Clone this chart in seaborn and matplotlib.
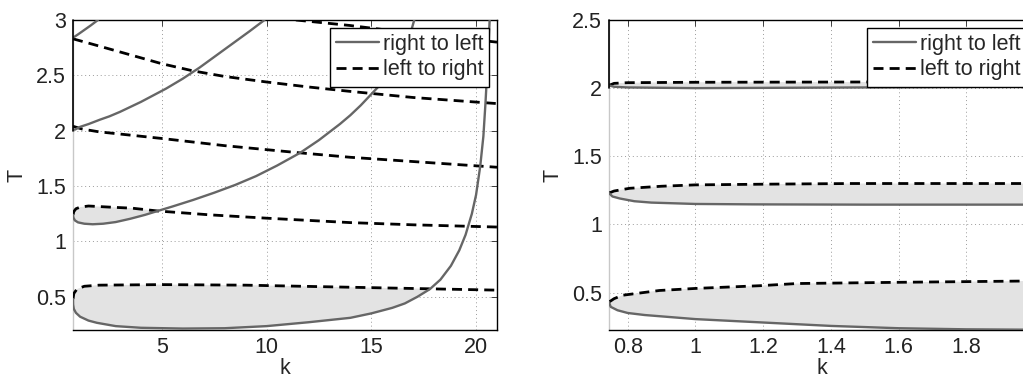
import numpy as np
import matplotlib
matplotlib.use("Agg")
import matplotlib.pyplot as plt
from matplotlib.lines import Line2D
from matplotlib.ticker import FuncFormatter
import seaborn as sns

# ---------- left panel (k from 0.76 to 21) ----------
# solid gray curves: right to left
g1_k = [0.76, 1.0, 1.3, 1.6, 1.95]
g1_T = [2.84, 2.87, 2.91, 2.95, 3.0]
g2_k = [0.76, 0.85, 1.1, 1.5, 2.05, 2.5, 3.0, 4.0, 4.5, 5.2, 6.0, 6.8, 7.6, 8.4, 9.2, 9.9]
g2_T = [2.01, 2.01, 2.035, 2.06, 2.10, 2.13, 2.17, 2.26, 2.31, 2.38, 2.47, 2.57, 2.68, 2.79, 2.90, 3.0]
g3_k = [0.76, 0.78, 0.85, 1.0, 1.3, 1.7, 2.2, 2.8, 3.5, 4.2, 4.8, 5.5, 6.5, 7.5, 8.5, 9.5,
        10.5, 11.6, 12.5, 13.5, 14.0, 14.5, 15.0, 15.5, 16.0, 16.4, 16.75, 17.05]
g3_T = [1.24, 1.215, 1.19, 1.172, 1.16, 1.155, 1.16, 1.175, 1.205, 1.24, 1.275, 1.315, 1.375, 1.44, 1.51, 1.59,
        1.685, 1.80, 1.915, 2.06, 2.14, 2.23, 2.33, 2.43, 2.54, 2.65, 2.80, 3.0]
g4_k = [0.76, 0.765, 0.8, 0.9, 1.1, 1.5, 1.9, 2.8, 4.0, 6.0, 8.0, 10.0, 12.0, 14.0, 15.0, 16.0,
        16.6, 17.2, 17.8, 18.3, 18.8, 19.2, 19.5, 19.8, 20.0, 20.2, 20.35, 20.45, 20.55, 20.65]
g4_T = [0.48, 0.43, 0.39, 0.355, 0.32, 0.285, 0.265, 0.235, 0.22, 0.213, 0.216, 0.235, 0.27, 0.31, 0.35, 0.40,
        0.44, 0.50, 0.57, 0.655, 0.78, 0.92, 1.06, 1.25, 1.42, 1.68, 1.95, 2.25, 2.60, 3.0]

# dashed black curves: left to right
d1_k = [11.4, 14.0, 17.0, 21.0]
d1_T = [3.0, 2.95, 2.88, 2.80]
d2_k = [0.76, 2.0, 3.5, 5.0, 6.5, 8.0, 10.0, 12.0, 14.0, 17.0, 21.0]
d2_T = [2.83, 2.765, 2.685, 2.605, 2.54, 2.49, 2.44, 2.395, 2.355, 2.30, 2.245]
d3_k = [0.76, 1.2, 2.0, 5.0, 8.0, 11.6, 14.0, 17.5, 21.0]
d3_T = [2.04, 2.015, 1.99, 1.93, 1.865, 1.80, 1.76, 1.715, 1.67]
d4_k = [0.76, 0.8, 0.9, 1.1, 1.5, 2.5, 3.6, 4.8, 7.3, 10.0, 14.0, 17.0, 21.0]
d4_T = [1.24, 1.27, 1.295, 1.31, 1.32, 1.31, 1.30, 1.275, 1.24, 1.21, 1.17, 1.15, 1.13]
d5_k = [0.76, 0.8, 0.95, 1.3, 2.0, 5.0, 9.0, 13.0, 17.8, 21.0]
d5_T = [0.48, 0.53, 0.57, 0.595, 0.605, 0.61, 0.605, 0.59, 0.572, 0.56]

# closed lobes on the left: (upper, lower, k where they meet)
left_lobes = [((d5_k, d5_T), (g4_k, g4_T), 17.8),
              ((d4_k, d4_T), (g3_k, g3_T), 4.8)]

# ---------- right panel (k from 0.745 to 2) ----------
ra_up_k = [0.745, 0.76, 0.8, 1.0, 1.5, 2.0]
ra_up_T = [2.02, 2.035, 2.04, 2.043, 2.045, 2.047]
ra_lo_k = [0.745, 0.76, 0.8, 1.0, 1.5, 2.0]
ra_lo_T = [2.02, 2.01, 2.005, 2.0, 2.005, 2.012]
rb_up_k = [0.745, 0.76, 0.806, 0.9, 1.0, 1.2, 1.46, 1.8, 2.0]
rb_up_T = [1.23, 1.245, 1.265, 1.28, 1.29, 1.295, 1.30, 1.30, 1.30]
rb_lo_k = [0.745, 0.755, 0.777, 0.82, 0.87, 1.0, 1.17, 1.5, 2.0]
rb_lo_T = [1.23, 1.205, 1.19, 1.17, 1.16, 1.15, 1.147, 1.145, 1.145]
rc_up_k = [0.745, 0.76, 0.785, 0.894, 1.0, 1.19, 1.3, 1.6, 1.8, 2.0]
rc_up_T = [0.43, 0.455, 0.48, 0.515, 0.53, 0.55, 0.566, 0.575, 0.58, 0.585]
rc_lo_k = [0.745, 0.75, 0.77, 0.8, 0.85, 0.9, 1.0, 1.2, 1.4, 1.6, 1.8, 2.0]
rc_lo_T = [0.43, 0.395, 0.37, 0.35, 0.335, 0.325, 0.305, 0.28, 0.255, 0.238, 0.23, 0.227]

right_lobes = [((ra_up_k, ra_up_T), (ra_lo_k, ra_lo_T), None),
               ((rb_up_k, rb_up_T), (rb_lo_k, rb_lo_T), None),
               ((rc_up_k, rc_up_T), (rc_lo_k, rc_lo_T), None)]

left_solid = [(g1_k, g1_T), (g2_k, g2_T), (g3_k, g3_T), (g4_k, g4_T)]
left_dashed = [(d1_k, d1_T), (d2_k, d2_T), (d3_k, d3_T), (d4_k, d4_T), (d5_k, d5_T)]
right_solid = [(ra_lo_k, ra_lo_T), (rb_lo_k, rb_lo_T), (rc_lo_k, rc_lo_T)]
right_dashed = [(ra_up_k, ra_up_T), (rb_up_k, rb_up_T), (rc_up_k, rc_up_T)]

left_xticks = [5, 10, 15, 20]
left_yticks = [0.5, 1, 1.5, 2, 2.5, 3]
right_xticks = [0.8, 1.0, 1.2, 1.4, 1.6, 1.8]
right_yticks = [0.5, 1, 1.5, 2, 2.5]
labels = ["right to left", "left to right"]

GRAY = "#666666"
FILL = "#e3e3e3"
DASH = (3.6, 2.2)

sns.set_style("white")
plt.rcParams["font.family"] = ["Liberation Sans", "DejaVu Sans"]

fig = plt.figure(figsize=(10.23, 3.79), dpi=100)
W, H = 1023.0, 379.0
ax1 = fig.add_axes([73 / W, 1 - 330 / H, 424 / W, 310 / H])
ax2 = fig.add_axes([609 / W, 1 - 330 / H, 425 / W, 310 / H])


def draw_panel(ax, lobes, solid, dashed, xlim, ylim, xticks, yticks):
    for (uk, uT), (lk, lT), kc in lobes:
        uk, uT, lk, lT = map(np.asarray, (uk, uT, lk, lT))
        if kc is not None:
            mu, ml = uk <= kc + 1e-9, lk <= kc + 1e-9
            uk, uT, lk, lT = uk[mu], uT[mu], lk[ml], lT[ml]
        ax.fill(np.r_[uk, lk[::-1]], np.r_[uT, lT[::-1]], color=FILL, lw=0, zorder=1)
    for k, T in dashed:
        sns.lineplot(x=k, y=T, sort=False, estimator=None, ax=ax, color="black", lw=2.0, zorder=3)
        ax.lines[-1].set_dashes(DASH)
    for k, T in solid:
        sns.lineplot(x=k, y=T, sort=False, estimator=None, ax=ax, color=GRAY, lw=1.7, zorder=4)
    ax.set_xlim(*xlim)
    ax.set_ylim(*ylim)
    ax.set_xticks(xticks)
    ax.set_yticks(yticks)
    fmt = FuncFormatter(lambda v, p: "%g" % v)
    ax.xaxis.set_major_formatter(fmt)
    ax.yaxis.set_major_formatter(fmt)
    ax.grid(True, color="#9a9a9a", lw=0.7, ls=(0, (1, 3)))
    ax.tick_params(direction="in", top=True, right=True, length=4, width=0.6,
                   labelsize=15.5, pad=5, colors="#222222")
    for s in ["top", "right", "bottom"]:
        ax.spines[s].set_color("black")
        ax.spines[s].set_linewidth(1.0)
    ax.spines["left"].set_color("#c8c8c8")
    ax.spines["left"].set_linewidth(1.0)
    # upper part of the left border stays black
    ax.axvline(xlim[0], ymin=(2.0 - ylim[0]) / (ylim[1] - ylim[0]), ymax=1, color="black", lw=1.2,
               zorder=5, clip_on=False)
    ax.set_xlabel("k", fontsize=15.5, labelpad=0)
    ax.set_ylabel("T", fontsize=15.5, labelpad=6)
    handles = [Line2D([], [], color=GRAY, lw=1.7),
               Line2D([], [], color="black", lw=2.0, dashes=DASH)]
    leg = ax.legend(handles, labels, loc="upper right", fontsize=15.5, frameon=True, fancybox=False,
                    edgecolor="black", framealpha=1, borderpad=0.3, labelspacing=0.2,
                    handlelength=2.0, handletextpad=0.15, borderaxespad=0.35)
    leg.get_frame().set_linewidth(1.0)
    leg.set_zorder(10)


draw_panel(ax1, left_lobes, left_solid, left_dashed, (0.76, 21), (0.2, 3),
           left_xticks, left_yticks)
draw_panel(ax2, right_lobes, right_solid, right_dashed, (0.745, 2.0), (0.225, 2.5),
           right_xticks, right_yticks)

fig.savefig("out.png", dpi=100)
